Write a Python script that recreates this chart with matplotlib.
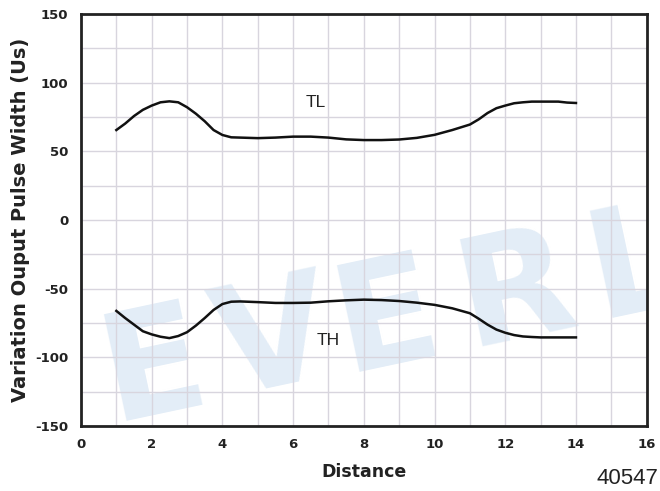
import matplotlib
matplotlib.use("Agg")
import matplotlib.pyplot as plt
from matplotlib.ticker import MultipleLocator

plt.rcParams['font.family'] = ['DejaVu Sans']
plt.rcParams['axes.unicode_minus'] = False

# Data
tl_x = [1.0, 1.25, 1.5, 1.75, 2.0, 2.25, 2.5, 2.75, 3.0, 3.25, 3.5, 3.75, 4.0, 4.25,
        4.5, 5.0, 5.5, 6.0, 6.5, 7.0, 7.5, 8.0, 8.5, 9.0, 9.5, 10.0, 10.5, 11.0,
        11.25, 11.5, 11.75, 12.0, 12.25, 12.5, 12.75, 13.0, 13.5, 13.75, 14.0]
tl_y = [65.5, 70.2, 75.7, 80.2, 83.3, 85.7, 86.4, 85.7, 82.1, 77.4, 71.9, 65.5, 61.9, 60.2,
        60.0, 59.6, 60.0, 60.7, 60.7, 60.0, 58.7, 58.2, 58.2, 58.6, 59.8, 62.0, 65.5, 69.5,
        73.3, 77.9, 81.4, 83.3, 85.0, 85.7, 86.2, 86.2, 86.2, 85.5, 85.2]

th_x = [1.0, 1.25, 1.5, 1.75, 2.0, 2.25, 2.5, 2.75, 3.0, 3.25, 3.5, 3.75, 4.0, 4.25,
        4.5, 5.0, 5.5, 6.0, 6.5, 7.0, 7.5, 8.0, 8.5, 9.0, 9.5, 10.0, 10.5, 11.0,
        11.25, 11.5, 11.75, 12.0, 12.25, 12.5, 12.75, 13.0, 13.5, 14.0]
th_y = [-66.2, -71.4, -76.2, -81.0, -83.3, -85.0, -86.0, -84.5, -81.7, -76.9, -71.4, -65.5,
        -61.2, -59.5, -59.3, -59.8, -60.4, -60.4, -60.2, -59.2, -58.5, -58.0, -58.3, -59.0,
        -60.2, -61.8, -64.3, -67.9, -71.9, -76.2, -79.8, -82.1, -83.8, -84.8, -85.2, -85.5,
        -85.5, -85.5]

series_labels = ["TL", "TH"]
label_pos = [(6.65, 85.8), (7.0, -87.4)]

x_ticks = [0, 2, 4, 6, 8, 10, 12, 14, 16]
y_ticks = [-150, -100, -50, 0, 50, 100, 150]

watermark_letters = ["E", "V", "E", "R", "L"]

fig = plt.figure(figsize=(6.6, 4.91), dpi=100)
ax = fig.add_axes([0.1227, 0.1324, 0.8571, 0.8391])

ax.set_xlim(0, 16)
ax.set_ylim(-150, 150)
ax.set_xticks(x_ticks)
ax.set_yticks(y_ticks)
ax.xaxis.set_minor_locator(MultipleLocator(1))
ax.yaxis.set_minor_locator(MultipleLocator(25))
ax.grid(True, which='both', color='#d8d5de', linewidth=1.0)
ax.set_axisbelow(True)
ax.tick_params(which='both', length=0)
ax.tick_params(axis='x', pad=9, labelsize=9.5, labelcolor='#222222')
ax.tick_params(axis='y', pad=9, labelsize=9.5, labelcolor='#222222')
for lbl in ax.get_xticklabels() + ax.get_yticklabels():
    lbl.set_fontweight('bold')
for s in ax.spines.values():
    s.set_linewidth(2)
    s.set_color('#222222')

# watermark (letters spaced along a tilted baseline, clipped to the axes)
wm_pos = [(0.0548, 0.0114), (0.2546, 0.0697), (0.4667, 0.1317), (0.6841, 0.1954),
          (0.9139, 0.2624)]
for ch, (wx, wy) in zip(watermark_letters, wm_pos):
    ax.text(wx, wy, ch, transform=ax.transAxes, rotation=12,
            fontsize=108, fontweight='bold', color='#e3edf7', ha='left', va='baseline',
            zorder=0.5, clip_on=True, rotation_mode='anchor')

ax.plot(tl_x, tl_y, color='#111111', linewidth=1.8, zorder=3)
ax.plot(th_x, th_y, color='#111111', linewidth=1.8, zorder=3)
for lab, (lx, ly) in zip(series_labels, label_pos):
    ax.text(lx, ly, lab, fontsize=12.5, ha='center', va='center', color='#222222',
            family='Liberation Sans', zorder=4)

ax.set_xlabel("Distance", fontsize=12.5, fontweight='bold', labelpad=8, color='#222222')
ax.set_ylabel("Variation Ouput Pulse Width (Us)", fontsize=14, fontweight='bold',
              labelpad=4, color='#222222')
fig.text(0.95, 0.025, "40547", fontsize=16, ha='center', va='center', color='#222222',
         family='Liberation Sans')

fig.savefig("out.png", dpi=100)
